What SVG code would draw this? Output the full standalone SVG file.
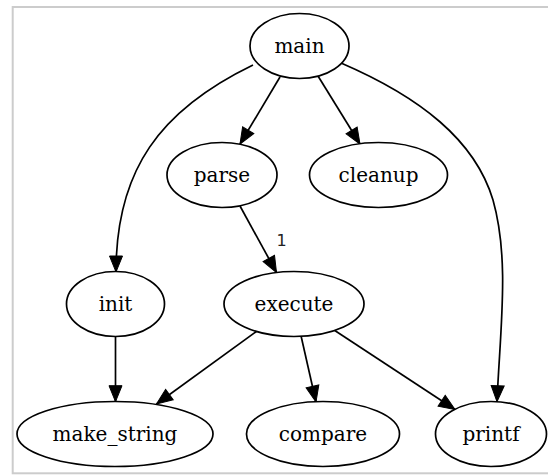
<svg xmlns="http://www.w3.org/2000/svg" width="548" height="476" viewBox="0 0 548 476">
<style>
.node ellipse{fill:#ffffff;stroke:#000000;stroke-width:1.7}
.edge path{fill:none;stroke:#000000;stroke-width:1.7;marker-end:url(#arrow)}
</style>
<defs>
<marker id="arrow" markerUnits="userSpaceOnUse" markerWidth="18" markerHeight="14" refX="16" refY="6.5" orient="auto" overflow="visible">
<path d="M0,0 L16,6.5 L0,13 Z" fill="#000000" stroke="#000000" stroke-width="1"/>
</marker>
</defs>
<rect x="0" y="0" width="548" height="476" fill="#ffffff"/>
<rect x="12.7" y="7" width="600" height="466.3" fill="#ffffff" stroke="#cccccc" stroke-width="2"/>
<g id="connectors" class="edge">
<path d="M280,77 L240,144"/>
<path d="M318,76 L360,144"/>
<path d="M253,65 C160,110 116,170 116,272"/>
<path d="M341,63 C420,97 475,140 493,200 C510,260 500,330 497,401.7"/>
<path d="M240,206 L276.5,272.5"/>
<path d="M115.5,336 L115.5,401.7"/>
<path d="M257,331 L156.5,404"/>
<path d="M301,335.8 L316,402"/>
<path d="M334,330 L455,409.5"/>
<text x="281.5" y="246" font-family="DejaVu Sans, sans-serif" font-size="16" fill="#222222" text-anchor="middle">1</text>
</g>
<g id="node-main" class="node"><ellipse cx="299.5" cy="46" rx="49.5" ry="32.5"/><text x="299.5" y="53" font-family="DejaVu Serif, serif" font-size="20" text-anchor="middle">main</text></g>
<g id="node-parse" class="node"><ellipse cx="222" cy="175" rx="55" ry="32.5"/><text x="222" y="182" font-family="DejaVu Serif, serif" font-size="20" text-anchor="middle">parse</text></g>
<g id="node-cleanup" class="node"><ellipse cx="378.5" cy="175" rx="69" ry="32.5"/><text x="378.5" y="182" font-family="DejaVu Serif, serif" font-size="20" text-anchor="middle">cleanup</text></g>
<g id="node-init" class="node"><ellipse cx="115.5" cy="304" rx="49" ry="32.5"/><text x="115.5" y="311" font-family="DejaVu Serif, serif" font-size="20" text-anchor="middle">init</text></g>
<g id="node-execute" class="node"><ellipse cx="294" cy="304" rx="70" ry="32.5"/><text x="294" y="311" font-family="DejaVu Serif, serif" font-size="20" text-anchor="middle">execute</text></g>
<g id="node-make_string" class="node"><ellipse cx="115" cy="434" rx="98" ry="32.5"/><text x="115" y="441" font-family="DejaVu Serif, serif" font-size="20" text-anchor="middle">make_string</text></g>
<g id="node-compare" class="node"><ellipse cx="323" cy="434" rx="76.5" ry="32.5"/><text x="323" y="441" font-family="DejaVu Serif, serif" font-size="20" text-anchor="middle">compare</text></g>
<g id="node-printf" class="node"><ellipse cx="491" cy="434" rx="55.5" ry="32.5"/><text x="491" y="441" font-family="DejaVu Serif, serif" font-size="20" text-anchor="middle">printf</text></g>
</svg>
